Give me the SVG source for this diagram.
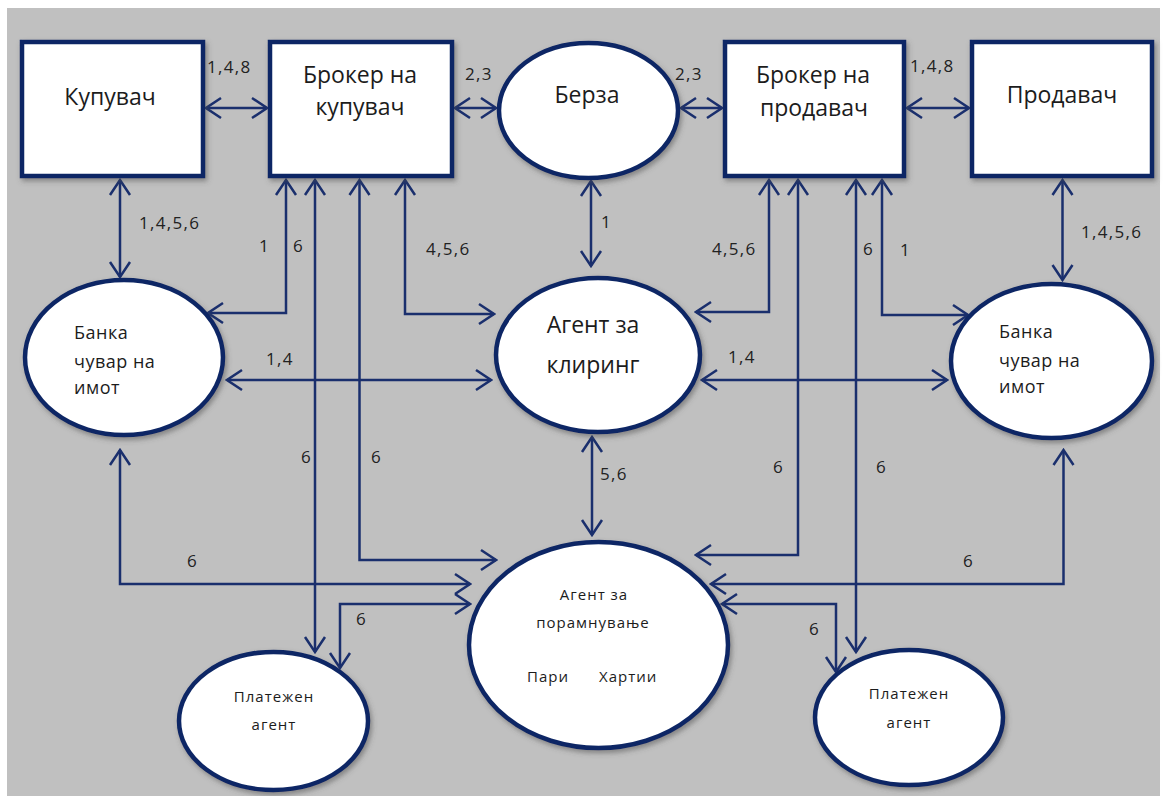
<svg xmlns="http://www.w3.org/2000/svg" width="1166" height="796" viewBox="0 0 1166 796">
  <defs>
    <style>
      .box { fill: #ffffff; stroke: #0f2865; stroke-width: 4.5; }
      .oval { fill: #ffffff; stroke: #0f2865; stroke-width: 4.5; }
      .shadow { filter: url(#drop); }
      .link { fill: none; stroke: #1a2f6d; stroke-width: 2.5; marker-start: url(#ah); marker-end: url(#ah); }
      .big { font-family: "Open Sans", "Liberation Sans", sans-serif; font-size: 23px; fill: #1c1c1c; text-anchor: middle; }
      .mid { font-family: "Open Sans", "Liberation Sans", sans-serif; font-size: 18px; fill: #1c1c1c; letter-spacing: 0.5px; }
      .small { font-family: "Open Sans", "Liberation Sans", sans-serif; font-size: 15px; fill: #1c1c1c; letter-spacing: 1px; }
      .lbl { font-family: "Open Sans", "Liberation Sans", sans-serif; font-size: 17px; fill: #222222; letter-spacing: 1.3px; }
    </style>
    <filter id="drop" x="-20%" y="-20%" width="140%" height="140%">
      <feDropShadow dx="2" dy="3" stdDeviation="2.5" flood-color="#4a4a4a" flood-opacity="0.5"/>
    </filter>
    <marker id="ah" viewBox="-18 -12 20 24" markerWidth="20" markerHeight="24" refX="0" refY="0" orient="auto-start-reverse" markerUnits="userSpaceOnUse">
      <path d="M-15,-10 L0,0 L-15,10" fill="none" stroke="#1a2f6d" stroke-width="2.5"/>
    </marker>
  </defs>

  <!-- backdrop -->
  <rect x="7" y="8" width="1153" height="788" fill="#c0c0c0"/>

  <!-- connectors -->
  <g id="connectors">
    <!-- top row -->
    <path class="link" d="M206,108 H267"/>
    <path class="link" d="M455,108 H496"/>
    <path class="link" d="M681,108 H722"/>
    <path class="link" d="M907,108 H969"/>
    <!-- verticals from the top row -->
    <path class="link" d="M120,180 V277"/>
    <path class="link" d="M286,180 V313 H208"/>
    <path class="link" d="M315,180 V652"/>
    <path class="link" d="M359.5,180 V560 H496"/>
    <path class="link" d="M405,180 V314 H494"/>
    <path class="link" d="M591,181 V266"/>
    <path class="link" d="M769,180 V312 H696"/>
    <path class="link" d="M798,180 V555 H696"/>
    <path class="link" d="M856,180 V652"/>
    <path class="link" d="M882,180 V315 H968"/>
    <path class="link" d="M1062.5,180 V280"/>
    <!-- middle row -->
    <path class="link" d="M227,380 H491"/>
    <path class="link" d="M702,380 H947"/>
    <path class="link" d="M592,437 V535"/>
    <!-- lower links -->
    <path class="link" d="M120,450 V584 H470"/>
    <path class="link" d="M1063.5,450 V584 H711"/>
    <path class="link" d="M340,668 V604 H470"/>
    <path class="link" d="M836,672 V604 H722"/>
  </g>

  <!-- link labels -->
  <g id="labels">
    <text class="lbl" x="207" y="73">1,4,8</text>
    <text class="lbl" x="465" y="80">2,3</text>
    <text class="lbl" x="675" y="80">2,3</text>
    <text class="lbl" x="910" y="72">1,4,8</text>
    <text class="lbl" x="139" y="229">1,4,5,6</text>
    <text class="lbl" x="259" y="252">1</text>
    <text class="lbl" x="293" y="252">6</text>
    <text class="lbl" x="426" y="255">4,5,6</text>
    <text class="lbl" x="601" y="228">1</text>
    <text class="lbl" x="712" y="255">4,5,6</text>
    <text class="lbl" x="863" y="255">6</text>
    <text class="lbl" x="900" y="256">1</text>
    <text class="lbl" x="1081" y="238">1,4,5,6</text>
    <text class="lbl" x="266" y="365">1,4</text>
    <text class="lbl" x="728" y="363">1,4</text>
    <text class="lbl" x="301" y="463">6</text>
    <text class="lbl" x="371" y="463">6</text>
    <text class="lbl" x="600" y="480">5,6</text>
    <text class="lbl" x="773" y="473">6</text>
    <text class="lbl" x="876" y="473">6</text>
    <text class="lbl" x="187" y="567">6</text>
    <text class="lbl" x="963" y="567">6</text>
    <text class="lbl" x="356" y="625">6</text>
    <text class="lbl" x="809" y="635">6</text>
  </g>

  <!-- nodes -->
  <g id="kupuvac">
    <rect class="box shadow" x="22" y="42" width="181" height="134"/>
    <text class="big" x="110" y="105">Купувач</text>
  </g>
  <g id="broker-kupuvac">
    <rect class="box shadow" x="270" y="42" width="182" height="134"/>
    <text class="big" x="360" y="83">Брокер на</text>
    <text class="big" x="360" y="115">купувач</text>
  </g>
  <g id="berza">
    <ellipse class="oval shadow" cx="588.5" cy="110.5" rx="89.5" ry="67.5"/>
    <text class="big" x="587" y="103">Берза</text>
  </g>
  <g id="broker-prodavac">
    <rect class="box shadow" x="725" y="42" width="179" height="134"/>
    <text class="big" x="813" y="83">Брокер на</text>
    <text class="big" x="814" y="116">продавач</text>
  </g>
  <g id="prodavac">
    <rect class="box shadow" x="972" y="42" width="180" height="134"/>
    <text class="big" x="1062" y="103">Продавач</text>
  </g>
  <g id="banka-levo">
    <ellipse class="oval shadow" cx="124" cy="357.5" rx="99" ry="77.5"/>
    <text class="mid" x="74" y="339">Банка</text>
    <text class="mid" x="74" y="368">чувар на</text>
    <text class="mid" x="74" y="394">имот</text>
  </g>
  <g id="agent-kliring">
    <ellipse class="oval shadow" cx="598" cy="355" rx="102" ry="77"/>
    <text class="big" x="593" y="333">Агент за</text>
    <text class="big" x="593" y="373">клиринг</text>
  </g>
  <g id="banka-desno">
    <ellipse class="oval shadow" cx="1051.5" cy="361" rx="100.5" ry="77"/>
    <text class="mid" x="999" y="338">Банка</text>
    <text class="mid" x="999" y="367">чувар на</text>
    <text class="mid" x="999" y="393">имот</text>
  </g>
  <g id="agent-poramnuvanje">
    <ellipse class="oval shadow" cx="598.5" cy="645" rx="129.5" ry="103"/>
    <text class="small" x="594" y="600" text-anchor="middle">Агент за</text>
    <text class="small" x="593" y="628" text-anchor="middle">порамнување</text>
    <text class="small" x="527" y="682">Пари</text>
    <text class="small" x="599" y="682">Хартии</text>
  </g>
  <g id="platezen-levo">
    <ellipse class="oval shadow" cx="273.5" cy="721" rx="94.5" ry="69"/>
    <text class="small" x="274" y="702" text-anchor="middle">Платежен</text>
    <text class="small" x="274" y="730" text-anchor="middle">агент</text>
  </g>
  <g id="platezen-desno">
    <ellipse class="oval shadow" cx="909" cy="717.5" rx="94" ry="67.5"/>
    <text class="small" x="909" y="699" text-anchor="middle">Платежен</text>
    <text class="small" x="909" y="728" text-anchor="middle">агент</text>
  </g>
</svg>
